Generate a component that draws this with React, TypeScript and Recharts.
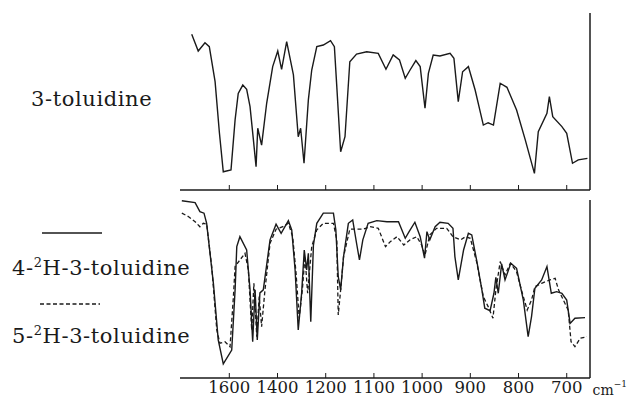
import { LineChart, Line, XAxis, YAxis } from 'recharts'

// wavenumber (cm-1), transmittance (%)
const toluidine: [number, number][] = [
  [1756, 88], [1729, 78.5], [1701, 83.2], [1683, 81], [1659, 61.2], [1641, 32.2], [1625, 10.3],
  [1593, 11.3], [1576, 39.6], [1563, 54.6], [1544, 59.3], [1528, 56.9], [1514, 47.1], [1500, 28.3],
  [1489, 13.2], [1482, 34.9], [1466, 25.4], [1445, 49], [1420, 69.7], [1399, 78.5], [1383, 68.2],
  [1362, 83.8], [1334, 65], [1314, 30.1], [1304, 34.9], [1290, 15.1], [1272, 50.9], [1258, 67.8],
  [1237, 81], [1210, 81.9], [1190, 84.4], [1182, 81], [1177, 58.4], [1169, 21.6], [1160, 30.1],
  [1150, 72.5], [1136, 76.8], [1115, 78.1], [1091, 77.2], [1075, 68.2], [1060, 76.3], [1047, 73.5],
  [1035, 63.1], [1025, 67.8], [1013, 73.1], [1004, 69.7], [994, 46.2], [987, 65.9], [977, 76.3],
  [963, 75.7], [942, 77.2], [934, 74.4], [925, 49.9], [916, 66.8], [904, 69.7], [890, 56.5],
  [873, 36.7], [863, 38], [852, 36.7], [838, 60.3], [824, 58], [804, 45.2], [786, 28.3], [767, 9.4],
  [759, 32.9], [741, 43.3], [736, 52.7], [729, 41.4], [710, 35.8], [700, 32], [688, 15.1],
  [676, 17], [657, 17.9],
]

const deut4: [number, number][] = [
  [1797, 99.6], [1742, 98.5], [1722, 93.5], [1705, 92.6], [1694, 86.9], [1666, 53.2], [1646, 21.4],
  [1625, 7.9], [1590, 15.7], [1576, 49.5], [1569, 73.8], [1556, 79.4], [1528, 71.9], [1514, 49.5],
  [1503, 20.4], [1493, 49.5], [1484, 21.4], [1473, 47.8], [1459, 49.5], [1431, 77.6], [1406, 86.4],
  [1385, 81.3], [1355, 88.4], [1341, 83.2], [1327, 60.7], [1314, 27], [1300, 47.6], [1289, 71.9],
  [1279, 60.7], [1272, 70.1], [1262, 31.6], [1251, 74.7], [1237, 86.9], [1210, 92.6], [1184, 92.6],
  [1179, 83.2], [1174, 56.9], [1169, 49.5], [1163, 68.2], [1153, 86.9], [1144, 88.8], [1136, 75.7],
  [1130, 66.3], [1123, 77.6], [1112, 86.9], [1094, 88.4], [1073, 87.8], [1049, 87.8], [1035, 78.5],
  [1027, 82.2], [1015, 87.5], [1004, 79.4], [995, 67.3], [990, 82.2], [984, 77.6], [973, 85],
  [963, 87.5], [946, 86.9], [936, 84.1], [932, 68.2], [925, 55.1], [914, 71.9], [904, 81.3],
  [897, 80.4], [887, 66.3], [876, 49.5], [870, 39.2], [859, 37.8], [851, 47.6], [847, 56.6],
  [842, 47.6], [835, 64.1], [828, 55.1], [816, 64.5], [804, 61.6], [790, 43.8], [780, 23.2],
  [773, 34.5], [766, 50.4], [752, 55.1], [741, 62.6], [732, 47.6], [721, 48.5], [710, 47.6],
  [700, 43.8], [693, 30.7], [683, 33.6], [662, 33.9],
]

const deut5: [number, number][] = [
  [1797, 92.6], [1770, 90.7], [1742, 87.8], [1722, 85], [1708, 86.9], [1694, 86.5], [1673, 62.6],
  [1652, 27], [1639, 19.5], [1618, 20.4], [1597, 17.6], [1583, 45.7], [1576, 62.6], [1556, 66.3],
  [1535, 70.1], [1521, 60.7], [1507, 27], [1498, 53.2], [1486, 23.2], [1476, 45.7], [1466, 28.8],
  [1452, 49.5], [1431, 75.7], [1406, 83.6], [1378, 85], [1355, 86.9], [1337, 79.4], [1323, 58.8],
  [1310, 33.6], [1297, 49.5], [1286, 68.2], [1275, 47.6], [1268, 58.8], [1258, 73.8], [1237, 83.2],
  [1210, 86.9], [1184, 86.9], [1177, 77.6], [1174, 35.4], [1169, 49.5], [1163, 68.2], [1150, 83.6],
  [1122, 83.6], [1108, 85], [1091, 84.1], [1076, 73.8], [1066, 76.6], [1052, 79.4], [1038, 74.7],
  [1025, 77.6], [1011, 79.4], [1001, 74.7], [994, 69.1], [984, 80.4], [970, 84.1], [949, 84.1],
  [936, 79.4], [920, 77.6], [910, 79.4], [900, 78.5], [887, 65.4], [873, 45.7], [863, 40.1],
  [853, 33.6], [847, 49.5], [838, 65.4], [828, 57.9], [817, 64.5], [804, 59.7], [794, 49.5],
  [782, 38.2], [773, 43.8], [766, 51.3], [752, 53.2], [735, 55.1], [724, 56], [717, 49.5],
  [707, 43.8], [697, 38.2], [691, 20.4], [683, 17.6], [672, 22.3], [658, 23.2],
]

const tickWn = [1600, 1400, 1200, 1100, 1000, 900, 800, 700]

// the chart paper changes scale at 1200 cm-1: 200 per division above, 100 below
const toPos = (w: number) => (w >= 1200 ? (1600 - w) / 200 : 2 + (1200 - w) / 100)
const rows = (pts: [number, number][]) => pts.map(([w, t]) => ({ x: toPos(w), t }))

const ticks = tickWn.map(toPos)
const domain: [number, number] = [-1.023, 7.483]
const ink = '#1a1a1a'
const serif = '"DejaVu Serif", "Liberation Serif", serif'

function AxisTick(props: any) {
  const { x, y, payload, label } = props
  const i = ticks.indexOf(payload.value)
  return (
    <g>
      <line x1={x} y1={y} x2={x} y2={y - 5} stroke={ink} strokeWidth={1} />
      {label && (
        <text x={x} y={y + 15} textAnchor="middle" fill={ink} fontFamily={serif} fontSize={16.5}>
          {tickWn[i]}
        </text>
      )}
    </g>
  )
}

export default function App() {
  return (
    <div style={{ position: 'absolute', left: 0, top: 0, width: 630, height: 398, background: '#fff' }}>
      <div style={{ position: 'absolute', left: 0, top: 0 }}>
        <LineChart width={630} height={200} margin={{ top: 13, right: 39, bottom: 0, left: 180 }}>
          <XAxis
            type="number"
            dataKey="x"
            domain={domain}
            ticks={ticks}
            allowDataOverflow
            height={10}
            tickSize={0}
            tickMargin={0}
            tickLine={false}
            axisLine={{ stroke: ink, strokeWidth: 1.5 }}
            tick={(p: any) => <AxisTick {...p} label={false} />}
          />
          <YAxis orientation="right" domain={[0, 100]} width={1} tick={false} axisLine={{ stroke: ink, strokeWidth: 1.5 }} />
          <Line data={rows(toluidine)} dataKey="t" type="linear" stroke={ink} strokeWidth={1.4} dot={false} isAnimationActive={false} />
        </LineChart>
      </div>
      <div style={{ position: 'absolute', left: 0, top: 190 }}>
        <LineChart width={630} height={208} margin={{ top: 10, right: 39, bottom: 0, left: 180 }}>
          <XAxis
            type="number"
            dataKey="x"
            domain={domain}
            ticks={ticks}
            allowDataOverflow
            height={20}
            tickSize={0}
            tickMargin={0}
            tickLine={false}
            axisLine={{ stroke: ink, strokeWidth: 1.5 }}
            tick={(p: any) => <AxisTick {...p} label />}
          />
          <YAxis orientation="right" domain={[0, 100]} width={1} tick={false} axisLine={{ stroke: ink, strokeWidth: 1.5 }} />
          <Line data={rows(deut4)} dataKey="t" type="linear" stroke={ink} strokeWidth={1.4} dot={false} isAnimationActive={false} />
          <Line data={rows(deut5)} dataKey="t" type="linear" stroke={ink} strokeWidth={1.3} strokeDasharray="4 2.5" dot={false} isAnimationActive={false} />
        </LineChart>
      </div>
      <svg width={630} height={398} style={{ position: 'absolute', left: 0, top: 0, pointerEvents: 'none' }}>
        <g fill={ink} fontFamily={serif} fontSize={21} letterSpacing={0.6}>
          <text x={31} y={106}>3-toluidine</text>
          <line x1={42} y1={233} x2={102} y2={233} stroke={ink} strokeWidth={1.4} />
          <text x={12} y={275}>
            4-<tspan fontSize={13} dy={-8}>2</tspan>
            <tspan dy={8}>H-3-toluidine</tspan>
          </text>
          <line x1={40} y1={304} x2={100} y2={304} stroke={ink} strokeWidth={1.3} strokeDasharray="4 2.5" />
          <text x={12} y={343}>
            5-<tspan fontSize={13} dy={-8}>2</tspan>
            <tspan dy={8}>H-3-toluidine</tspan>
          </text>
        </g>
        <text x={627} y={395} textAnchor="end" fill={ink} fontFamily={serif} fontSize={14}>
          cm<tspan fontSize={9} dy={-8}>−1</tspan>
        </text>
      </svg>
    </div>
  )
}
